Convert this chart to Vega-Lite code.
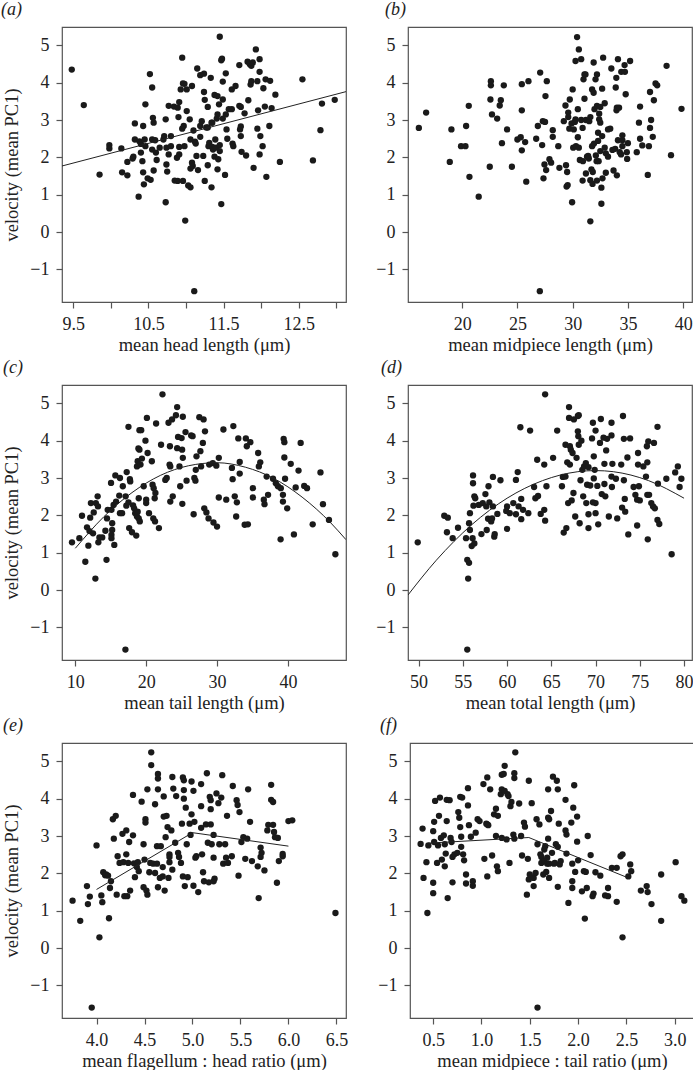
{
"$schema": "https://vega.github.io/schema/vega-lite/v6.json",
"background": "white",
"padding": {"left": 0, "top": 0, "right": 0, "bottom": 0},
"spacing": 3,
"config": {
 "font": "Liberation Serif",
 "view": {"stroke": "#555", "strokeWidth": 1.2},
 "axis": {"grid": false, "domain": false, "tickColor": "#555", "tickSize": 6, "tickWidth": 1.2, "labelFont": "Liberation Serif", "labelFontSize": 18, "labelColor": "#222", "titleFont": "Liberation Serif", "titleFontSize": 18.5, "titleFontWeight": "normal", "titleColor": "#222", "labelPadding": 7, "titlePadding": 2, "labelFlush": false, "labelOverlap": false},
 "axisY": {"labelAngle": 0, "titlePadding": 8},
 "title": {"font": "Liberation Serif", "fontSize": 18, "fontStyle": "italic", "fontWeight": "normal", "color": "#222", "anchor": "start", "frame": "group", "baseline": "alphabetic", "offset": 8}
},
"datasets": {
 "a": [{"x":9.48,"y":4.35},{"x":9.64,"y":3.40},{"x":9.85,"y":1.54},{"x":9.98,"y":2.33},{"x":9.98,"y":2.24},{"x":10.14,"y":2.24},{"x":10.15,"y":1.60},{"x":10.22,"y":1.52},{"x":10.22,"y":1.88},{"x":10.29,"y":1.97},{"x":10.30,"y":2.02},{"x":10.32,"y":2.91},{"x":10.32,"y":2.48},{"x":10.37,"y":0.95},{"x":10.38,"y":2.43},{"x":10.40,"y":2.36},{"x":10.40,"y":2.13},{"x":10.42,"y":1.90},{"x":10.43,"y":2.84},{"x":10.43,"y":1.60},{"x":10.44,"y":1.28},{"x":10.45,"y":2.48},{"x":10.46,"y":3.42},{"x":10.46,"y":2.30},{"x":10.49,"y":1.44},{"x":10.52,"y":4.23},{"x":10.53,"y":1.40},{"x":10.55,"y":3.87},{"x":10.56,"y":3.06},{"x":10.57,"y":2.93},{"x":10.55,"y":2.48},{"x":10.55,"y":2.21},{"x":10.57,"y":1.65},{"x":10.59,"y":2.46},{"x":10.60,"y":2.13},{"x":10.61,"y":1.93},{"x":10.65,"y":2.26},{"x":10.70,"y":2.48},{"x":10.71,"y":2.57},{"x":10.73,"y":3.02},{"x":10.73,"y":0.80},{"x":10.74,"y":1.81},{"x":10.75,"y":1.62},{"x":10.74,"y":2.26},{"x":10.77,"y":3.38},{"x":10.77,"y":2.08},{"x":10.80,"y":2.57},{"x":10.80,"y":2.30},{"x":10.84,"y":3.36},{"x":10.85,"y":1.38},{"x":10.88,"y":1.99},{"x":10.89,"y":3.33},{"x":10.89,"y":1.37},{"x":10.90,"y":3.08},{"x":10.91,"y":2.28},{"x":10.91,"y":2.08},{"x":10.91,"y":3.48},{"x":10.93,"y":3.82},{"x":10.95,"y":4.67},{"x":10.95,"y":2.77},{"x":10.96,"y":3.98},{"x":10.98,"y":3.97},{"x":10.96,"y":1.37},{"x":10.97,"y":2.84},{"x":10.98,"y":2.30},{"x":10.99,"y":0.31},{"x":11.01,"y":3.82},{"x":11.01,"y":3.24},{"x":11.03,"y":1.25},{"x":11.06,"y":1.20},{"x":11.05,"y":3.02},{"x":11.06,"y":1.70},{"x":11.06,"y":2.48},{"x":11.08,"y":3.91},{"x":11.08,"y":1.86},{"x":11.09,"y":1.77},{"x":11.10,"y":2.72},{"x":11.11,"y":-1.58},{"x":11.12,"y":2.42},{"x":11.13,"y":2.37},{"x":11.14,"y":2.04},{"x":11.15,"y":4.38},{"x":11.16,"y":1.66},{"x":11.19,"y":4.20},{"x":11.24,"y":4.24},{"x":11.19,"y":2.84},{"x":11.19,"y":2.55},{"x":11.21,"y":2.97},{"x":11.23,"y":2.04},{"x":11.24,"y":3.75},{"x":11.25,"y":3.54},{"x":11.25,"y":1.37},{"x":11.27,"y":2.80},{"x":11.29,"y":2.80},{"x":11.29,"y":1.79},{"x":11.29,"y":3.35},{"x":11.30,"y":2.30},{"x":11.31,"y":2.39},{"x":11.33,"y":4.13},{"x":11.34,"y":2.93},{"x":11.35,"y":2.93},{"x":11.34,"y":1.20},{"x":11.35,"y":2.28},{"x":11.36,"y":2.21},{"x":11.38,"y":2.02},{"x":11.38,"y":3.67},{"x":11.39,"y":2.48},{"x":11.40,"y":2.26},{"x":11.41,"y":3.04},{"x":11.42,"y":3.64},{"x":11.42,"y":1.68},{"x":11.42,"y":3.15},{"x":11.43,"y":1.95},{"x":11.44,"y":3.42},{"x":11.45,"y":5.23},{"x":11.45,"y":2.33},{"x":11.45,"y":2.17},{"x":11.47,"y":4.60},{"x":11.48,"y":4.64},{"x":11.47,"y":0.75},{"x":11.49,"y":4.03},{"x":11.49,"y":3.55},{"x":11.49,"y":3.04},{"x":11.52,"y":1.53},{"x":11.53,"y":4.25},{"x":11.53,"y":3.15},{"x":11.54,"y":2.75},{"x":11.55,"y":2.50},{"x":11.57,"y":3.29},{"x":11.61,"y":3.29},{"x":11.61,"y":3.82},{"x":11.62,"y":2.37},{"x":11.63,"y":2.30},{"x":11.66,"y":3.91},{"x":11.71,"y":4.47},{"x":11.71,"y":3.38},{"x":11.73,"y":3.35},{"x":11.72,"y":2.75},{"x":11.73,"y":2.83},{"x":11.73,"y":2.57},{"x":11.74,"y":2.15},{"x":11.78,"y":3.18},{"x":11.80,"y":2.05},{"x":11.82,"y":4.56},{"x":11.83,"y":3.53},{"x":11.85,"y":4.49},{"x":11.87,"y":4.45},{"x":11.86,"y":3.95},{"x":11.87,"y":4.04},{"x":11.89,"y":4.54},{"x":11.90,"y":1.72},{"x":11.93,"y":4.89},{"x":11.95,"y":4.04},{"x":11.95,"y":2.77},{"x":11.96,"y":3.26},{"x":11.98,"y":4.63},{"x":11.98,"y":4.29},{"x":11.98,"y":2.08},{"x":11.99,"y":2.57},{"x":12.02,"y":2.30},{"x":12.03,"y":3.85},{"x":12.05,"y":3.36},{"x":12.06,"y":4.09},{"x":12.07,"y":1.48},{"x":12.11,"y":2.84},{"x":12.12,"y":4.05},{"x":12.14,"y":3.32},{"x":12.19,"y":3.68},{"x":12.25,"y":1.88},{"x":12.55,"y":4.09},{"x":12.69,"y":1.92},{"x":12.79,"y":2.73},{"x":12.81,"y":3.44},{"x":12.98,"y":3.54}],
 "b": [{"x":16.08,"y":2.79},{"x":16.74,"y":3.20},{"x":18.88,"y":1.88},{"x":19.03,"y":2.75},{"x":19.9,"y":2.30},{"x":20.3,"y":2.30},{"x":20.36,"y":2.84},{"x":20.6,"y":3.38},{"x":20.66,"y":1.48},{"x":21.5,"y":0.95},{"x":22.5,"y":1.75},{"x":22.56,"y":3.55},{"x":22.6,"y":3.93},{"x":22.6,"y":4.04},{"x":22.7,"y":3.15},{"x":23.17,"y":3.04},{"x":23.4,"y":3.39},{"x":23.5,"y":3.53},{"x":23.6,"y":2.38},{"x":23.77,"y":3.93},{"x":24.07,"y":2.75},{"x":24.5,"y":1.75},{"x":25.0,"y":2.48},{"x":25.3,"y":2.54},{"x":25.4,"y":2.19},{"x":25.4,"y":3.96},{"x":25.4,"y":3.26},{"x":25.7,"y":2.41},{"x":25.8,"y":1.35},{"x":26.0,"y":4.04},{"x":26.7,"y":2.50},{"x":26.85,"y":2.84},{"x":27.06,"y":4.27},{"x":27.03,"y":-1.58},{"x":27.24,"y":2.33},{"x":27.3,"y":2.97},{"x":27.5,"y":2.95},{"x":27.36,"y":1.44},{"x":27.45,"y":1.81},{"x":27.54,"y":3.64},{"x":27.66,"y":4.04},{"x":27.6,"y":1.66},{"x":27.9,"y":1.95},{"x":28.05,"y":1.86},{"x":28.2,"y":2.73},{"x":28.2,"y":2.55},{"x":28.7,"y":2.30},{"x":28.8,"y":1.72},{"x":29.2,"y":2.97},{"x":29.35,"y":3.39},{"x":29.4,"y":1.79},{"x":29.45,"y":1.22},{"x":29.55,"y":1.26},{"x":29.5,"y":1.61},{"x":29.6,"y":3.20},{"x":29.6,"y":3.08},{"x":29.74,"y":3.55},{"x":29.7,"y":2.77},{"x":29.9,"y":2.91},{"x":29.95,"y":0.80},{"x":30.0,"y":3.82},{"x":30.05,"y":2.26},{"x":30.1,"y":2.75},{"x":30.2,"y":2.95},{"x":30.26,"y":3.02},{"x":30.26,"y":4.58},{"x":30.3,"y":2.30},{"x":30.4,"y":5.22},{"x":30.47,"y":2.54},{"x":30.47,"y":3.29},{"x":30.56,"y":4.89},{"x":30.56,"y":2.26},{"x":30.65,"y":1.93},{"x":30.77,"y":4.63},{"x":30.77,"y":3.00},{"x":30.9,"y":2.79},{"x":30.9,"y":1.38},{"x":30.93,"y":1.90},{"x":30.98,"y":4.09},{"x":31.07,"y":4.22},{"x":31.07,"y":3.57},{"x":31.16,"y":4.22},{"x":31.2,"y":3.00},{"x":31.2,"y":1.57},{"x":31.3,"y":2.02},{"x":31.4,"y":2.04},{"x":31.46,"y":1.97},{"x":31.5,"y":2.97},{"x":31.6,"y":3.08},{"x":31.6,"y":1.39},{"x":31.6,"y":0.29},{"x":31.7,"y":1.68},{"x":31.76,"y":3.82},{"x":31.76,"y":2.30},{"x":31.82,"y":1.61},{"x":31.8,"y":1.29},{"x":31.9,"y":4.54},{"x":31.9,"y":3.73},{"x":31.93,"y":2.37},{"x":31.98,"y":3.29},{"x":32.07,"y":4.09},{"x":32.1,"y":2.05},{"x":32.17,"y":1.90},{"x":32.2,"y":3.38},{"x":32.2,"y":4.22},{"x":32.2,"y":1.38},{"x":32.3,"y":2.66},{"x":32.3,"y":2.44},{"x":32.35,"y":1.90},{"x":32.4,"y":3.17},{"x":32.4,"y":3.02},{"x":32.5,"y":2.17},{"x":32.5,"y":3.35},{"x":32.5,"y":2.93},{"x":32.6,"y":0.76},{"x":32.6,"y":1.19},{"x":32.67,"y":3.84},{"x":32.67,"y":2.57},{"x":32.7,"y":1.44},{"x":32.76,"y":4.67},{"x":32.9,"y":3.45},{"x":32.9,"y":2.26},{"x":33.0,"y":1.59},{"x":33.0,"y":2.11},{"x":33.2,"y":2.02},{"x":33.2,"y":2.75},{"x":33.4,"y":2.77},{"x":33.5,"y":4.38},{"x":33.6,"y":2.20},{"x":33.7,"y":1.65},{"x":33.85,"y":2.23},{"x":33.9,"y":3.87},{"x":33.95,"y":4.13},{"x":33.97,"y":3.26},{"x":34.0,"y":1.52},{"x":34.0,"y":3.33},{"x":34.2,"y":3.33},{"x":34.1,"y":4.63},{"x":34.1,"y":2.46},{"x":34.26,"y":2.14},{"x":34.38,"y":2.08},{"x":34.4,"y":4.29},{"x":34.5,"y":2.46},{"x":34.5,"y":2.59},{"x":34.5,"y":2.30},{"x":34.7,"y":4.47},{"x":34.73,"y":4.29},{"x":34.8,"y":3.69},{"x":34.9,"y":2.14},{"x":34.93,"y":1.96},{"x":35.0,"y":2.38},{"x":35.2,"y":4.58},{"x":35.8,"y":2.14},{"x":36.0,"y":2.93},{"x":36.1,"y":3.36},{"x":36.1,"y":2.50},{"x":36.3,"y":2.32},{"x":36.8,"y":1.53},{"x":36.9,"y":2.30},{"x":37.0,"y":2.79},{"x":37.0,"y":3.75},{"x":37.1,"y":3.00},{"x":37.25,"y":2.55},{"x":37.35,"y":3.53},{"x":37.5,"y":3.98},{"x":37.65,"y":3.93},{"x":38.5,"y":4.45},{"x":38.9,"y":2.06},{"x":39.85,"y":3.30}],
 "c": [{"x":9.53,"y":1.28},{"x":10.57,"y":1.39},{"x":10.94,"y":1.99},{"x":11.41,"y":0.76},{"x":11.65,"y":1.68},{"x":11.84,"y":1.19},{"x":12.0,"y":1.58},{"x":12.1,"y":1.94},{"x":12.2,"y":2.33},{"x":12.5,"y":1.52},{"x":12.6,"y":2.08},{"x":12.83,"y":0.31},{"x":12.9,"y":2.33},{"x":13.15,"y":2.51},{"x":13.2,"y":2.24},{"x":13.25,"y":1.28},{"x":13.4,"y":1.41},{"x":13.8,"y":1.41},{"x":14.24,"y":1.59},{"x":14.4,"y":0.81},{"x":14.47,"y":1.92},{"x":14.57,"y":2.15},{"x":15.04,"y":2.87},{"x":15.1,"y":2.15},{"x":15.2,"y":1.79},{"x":15.2,"y":1.61},{"x":15.1,"y":1.48},{"x":15.1,"y":1.39},{"x":15.4,"y":2.28},{"x":15.5,"y":1.21},{"x":15.65,"y":3.07},{"x":15.75,"y":2.37},{"x":16.2,"y":2.53},{"x":16.3,"y":3.00},{"x":16.3,"y":2.06},{"x":16.6,"y":2.06},{"x":16.7,"y":2.78},{"x":17.1,"y":2.51},{"x":17.2,"y":2.26},{"x":17.07,"y":-1.59},{"x":17.25,"y":3.16},{"x":17.5,"y":4.37},{"x":17.5,"y":2.35},{"x":17.6,"y":1.66},{"x":17.7,"y":2.97},{"x":17.75,"y":2.91},{"x":18.0,"y":1.55},{"x":18.15,"y":2.27},{"x":18.3,"y":2.19},{"x":18.45,"y":2.06},{"x":18.6,"y":1.46},{"x":18.7,"y":1.97},{"x":18.8,"y":2.10},{"x":18.8,"y":3.45},{"x":18.7,"y":3.31},{"x":18.9,"y":3.79},{"x":18.95,"y":2.46},{"x":18.95,"y":1.92},{"x":19.05,"y":4.28},{"x":19.3,"y":4.28},{"x":19.05,"y":3.76},{"x":19.1,"y":1.84},{"x":19.2,"y":3.36},{"x":19.4,"y":3.52},{"x":19.65,"y":2.78},{"x":19.9,"y":4.00},{"x":20.0,"y":2.42},{"x":20.0,"y":2.33},{"x":20.1,"y":4.61},{"x":20.2,"y":3.67},{"x":20.4,"y":2.06},{"x":20.8,"y":3.45},{"x":20.9,"y":2.82},{"x":21.0,"y":1.92},{"x":21.06,"y":2.73},{"x":21.2,"y":2.46},{"x":21.25,"y":1.84},{"x":21.3,"y":2.60},{"x":21.4,"y":4.46},{"x":21.8,"y":1.66},{"x":22.1,"y":3.89},{"x":22.3,"y":5.24},{"x":22.7,"y":2.95},{"x":22.9,"y":3.00},{"x":23.15,"y":4.48},{"x":23.3,"y":3.36},{"x":23.4,"y":3.31},{"x":23.35,"y":3.85},{"x":23.4,"y":2.37},{"x":23.65,"y":4.57},{"x":23.75,"y":2.51},{"x":24.2,"y":4.68},{"x":24.37,"y":3.80},{"x":24.37,"y":4.90},{"x":24.5,"y":4.10},{"x":24.7,"y":3.31},{"x":24.8,"y":2.78},{"x":25.0,"y":4.07},{"x":25.07,"y":3.76},{"x":25.1,"y":2.31},{"x":25.17,"y":4.64},{"x":25.17,"y":3.54},{"x":25.55,"y":4.23},{"x":25.7,"y":2.93},{"x":26.35,"y":4.14},{"x":26.55,"y":4.12},{"x":26.7,"y":2.03},{"x":26.8,"y":3.00},{"x":26.95,"y":2.93},{"x":27.0,"y":3.22},{"x":27.1,"y":3.58},{"x":27.5,"y":4.63},{"x":27.65,"y":3.72},{"x":27.75,"y":3.31},{"x":28.0,"y":3.94},{"x":28.1,"y":4.57},{"x":28.2,"y":2.19},{"x":28.3,"y":4.25},{"x":28.5,"y":2.08},{"x":28.8,"y":1.92},{"x":28.9,"y":3.36},{"x":29.4,"y":3.40},{"x":29.5,"y":1.81},{"x":29.9,"y":3.33},{"x":30.0,"y":1.70},{"x":30.25,"y":3.54},{"x":30.25,"y":2.48},{"x":30.9,"y":4.30},{"x":31.3,"y":2.42},{"x":32.1,"y":3.27},{"x":32.3,"y":4.39},{"x":32.2,"y":2.97},{"x":32.5,"y":2.51},{"x":32.7,"y":1.97},{"x":32.8,"y":2.35},{"x":33.0,"y":4.06},{"x":33.2,"y":3.43},{"x":33.2,"y":3.12},{"x":33.9,"y":1.75},{"x":34.07,"y":4.06},{"x":34.2,"y":3.85},{"x":34.35,"y":1.76},{"x":34.7,"y":3.96},{"x":35.06,"y":2.73},{"x":35.06,"y":2.48},{"x":35.8,"y":3.67},{"x":35.9,"y":3.31},{"x":36.1,"y":3.42},{"x":36.6,"y":2.42},{"x":36.7,"y":2.30},{"x":37.0,"y":3.04},{"x":37.2,"y":2.55},{"x":37.9,"y":2.98},{"x":38.3,"y":2.86},{"x":38.6,"y":2.78},{"x":38.97,"y":1.36},{"x":39.0,"y":2.73},{"x":39.3,"y":2.55},{"x":39.3,"y":2.37},{"x":39.4,"y":4.05},{"x":39.5,"y":3.96},{"x":39.5,"y":3.55},{"x":39.6,"y":2.98},{"x":39.9,"y":2.19},{"x":40.4,"y":3.38},{"x":40.85,"y":1.49},{"x":41.1,"y":2.75},{"x":41.5,"y":3.20},{"x":41.8,"y":3.94},{"x":42.3,"y":2.79},{"x":42.7,"y":2.73},{"x":43.5,"y":1.76},{"x":44.6,"y":3.15},{"x":44.95,"y":2.30},{"x":45.8,"y":1.88},{"x":46.7,"y":0.96}],
 "d": [{"x":49.9,"y":1.28},{"x":52.9,"y":1.99},{"x":53.3,"y":1.94},{"x":53.2,"y":1.55},{"x":53.85,"y":1.39},{"x":54.45,"y":1.67},{"x":55.36,"y":1.39},{"x":55.5,"y":0.81},{"x":55.7,"y":1.79},{"x":55.7,"y":0.73},{"x":55.6,"y":0.31},{"x":55.5,"y":-1.59},{"x":55.8,"y":2.06},{"x":55.8,"y":1.61},{"x":56.0,"y":1.18},{"x":56.1,"y":1.39},{"x":56.15,"y":3.07},{"x":56.15,"y":2.86},{"x":56.2,"y":2.26},{"x":56.3,"y":2.51},{"x":56.3,"y":1.25},{"x":56.4,"y":2.46},{"x":56.8,"y":2.28},{"x":57.1,"y":1.50},{"x":57.25,"y":2.33},{"x":57.55,"y":2.57},{"x":57.65,"y":2.24},{"x":57.7,"y":1.61},{"x":57.85,"y":1.91},{"x":57.9,"y":2.78},{"x":58.0,"y":2.35},{"x":58.2,"y":1.84},{"x":58.3,"y":1.92},{"x":58.4,"y":3.03},{"x":58.4,"y":2.24},{"x":58.55,"y":1.43},{"x":58.6,"y":1.50},{"x":58.9,"y":2.04},{"x":59.25,"y":2.94},{"x":59.9,"y":2.12},{"x":60.0,"y":2.24},{"x":60.0,"y":1.64},{"x":60.3,"y":2.06},{"x":60.7,"y":2.33},{"x":61.0,"y":2.03},{"x":61.0,"y":2.95},{"x":61.2,"y":3.16},{"x":61.3,"y":2.24},{"x":61.5,"y":4.36},{"x":61.6,"y":1.90},{"x":61.6,"y":2.44},{"x":61.8,"y":2.15},{"x":62.4,"y":2.06},{"x":62.6,"y":4.27},{"x":63.05,"y":2.76},{"x":63.2,"y":2.46},{"x":63.4,"y":3.49},{"x":63.5,"y":2.52},{"x":63.8,"y":2.04},{"x":64.2,"y":3.36},{"x":64.2,"y":2.15},{"x":64.3,"y":1.86},{"x":64.3,"y":5.24},{"x":64.45,"y":2.78},{"x":65.2,"y":3.54},{"x":65.66,"y":4.27},{"x":66.2,"y":2.78},{"x":66.3,"y":3.03},{"x":66.4,"y":1.54},{"x":66.6,"y":3.04},{"x":66.6,"y":3.89},{"x":66.7,"y":1.66},{"x":66.8,"y":3.42},{"x":66.9,"y":2.33},{"x":67.0,"y":4.90},{"x":67.0,"y":4.61},{"x":67.1,"y":3.85},{"x":67.1,"y":3.36},{"x":67.2,"y":3.76},{"x":67.4,"y":3.67},{"x":67.3,"y":2.40},{"x":67.5,"y":2.60},{"x":67.55,"y":4.57},{"x":67.7,"y":1.97},{"x":67.85,"y":3.54},{"x":68.0,"y":4.25},{"x":68.05,"y":4.12},{"x":68.0,"y":4.66},{"x":68.1,"y":4.68},{"x":68.1,"y":3.89},{"x":68.2,"y":1.79},{"x":68.3,"y":2.94},{"x":68.4,"y":4.00},{"x":68.5,"y":3.22},{"x":68.6,"y":2.51},{"x":68.7,"y":3.31},{"x":68.9,"y":3.40},{"x":68.95,"y":2.33},{"x":69.05,"y":2.82},{"x":69.2,"y":2.03},{"x":69.2,"y":1.66},{"x":69.2,"y":3.29},{"x":69.4,"y":2.80},{"x":69.6,"y":4.06},{"x":69.7,"y":2.35},{"x":69.7,"y":4.48},{"x":69.8,"y":3.58},{"x":69.8,"y":2.99},{"x":69.9,"y":3.22},{"x":70.0,"y":4.27},{"x":70.0,"y":2.06},{"x":70.0,"y":2.33},{"x":70.2,"y":2.79},{"x":70.3,"y":1.76},{"x":70.5,"y":3.94},{"x":70.6,"y":4.58},{"x":70.7,"y":2.57},{"x":70.9,"y":4.08},{"x":71.0,"y":3.38},{"x":71.0,"y":2.84},{"x":71.1,"y":2.51},{"x":71.2,"y":3.74},{"x":71.3,"y":4.05},{"x":71.5,"y":1.97},{"x":71.8,"y":4.14},{"x":71.8,"y":4.48},{"x":71.8,"y":3.04},{"x":71.85,"y":2.76},{"x":71.9,"y":3.38},{"x":72.3,"y":2.98},{"x":72.45,"y":1.92},{"x":72.9,"y":3.36},{"x":73.0,"y":2.21},{"x":73.1,"y":4.66},{"x":73.2,"y":4.05},{"x":73.2,"y":2.94},{"x":73.3,"y":2.44},{"x":73.35,"y":2.10},{"x":73.6,"y":3.55},{"x":73.7,"y":1.49},{"x":73.9,"y":4.06},{"x":74.3,"y":2.76},{"x":74.5,"y":2.55},{"x":74.7,"y":2.42},{"x":74.7,"y":1.73},{"x":74.8,"y":3.67},{"x":74.8,"y":3.36},{"x":74.9,"y":2.78},{"x":75.0,"y":2.40},{"x":75.4,"y":3.31},{"x":75.7,"y":3.04},{"x":75.8,"y":3.85},{"x":75.85,"y":3.42},{"x":75.85,"y":2.55},{"x":75.9,"y":1.36},{"x":75.96,"y":3.98},{"x":76.05,"y":2.55},{"x":76.3,"y":2.33},{"x":76.5,"y":2.24},{"x":76.6,"y":3.94},{"x":76.7,"y":2.19},{"x":77.0,"y":1.88},{"x":77.0,"y":4.37},{"x":77.05,"y":2.85},{"x":77.2,"y":1.77},{"x":78.0,"y":2.98},{"x":78.6,"y":0.96},{"x":79.0,"y":3.15},{"x":79.3,"y":3.31},{"x":79.5,"y":2.76},{"x":79.7,"y":2.98}],
 "e": [{"x":3.75,"y":1.27},{"x":3.83,"y":0.73},{"x":3.90,"y":1.66},{"x":3.91,"y":1.18},{"x":3.93,"y":1.38},{"x":3.95,"y":-1.59},{"x":4.0,"y":2.75},{"x":4.03,"y":0.29},{"x":4.05,"y":1.41},{"x":4.06,"y":1.23},{"x":4.07,"y":2.03},{"x":4.09,"y":1.95},{"x":4.10,"y":1.97},{"x":4.12,"y":1.94},{"x":4.13,"y":0.80},{"x":4.14,"y":1.61},{"x":4.15,"y":1.79},{"x":4.17,"y":3.45},{"x":4.20,"y":3.54},{"x":4.18,"y":2.93},{"x":4.21,"y":1.43},{"x":4.22,"y":2.46},{"x":4.24,"y":2.28},{"x":4.27,"y":3.06},{"x":4.28,"y":2.30},{"x":4.29,"y":1.39},{"x":4.31,"y":3.15},{"x":4.31,"y":2.51},{"x":4.32,"y":1.39},{"x":4.33,"y":2.28},{"x":4.34,"y":2.84},{"x":4.35,"y":1.54},{"x":4.38,"y":4.10},{"x":4.38,"y":3.02},{"x":4.39,"y":2.27},{"x":4.40,"y":1.90},{"x":4.42,"y":2.17},{"x":4.43,"y":2.30},{"x":4.44,"y":2.06},{"x":4.47,"y":3.92},{"x":4.49,"y":2.78},{"x":4.49,"y":1.63},{"x":4.50,"y":2.37},{"x":4.51,"y":3.45},{"x":4.51,"y":3.36},{"x":4.52,"y":1.54},{"x":4.53,"y":1.43},{"x":4.53,"y":4.25},{"x":4.55,"y":2.03},{"x":4.56,"y":2.28},{"x":4.57,"y":5.24},{"x":4.57,"y":4.90},{"x":4.59,"y":2.26},{"x":4.61,"y":3.85},{"x":4.61,"y":2.01},{"x":4.63,"y":2.26},{"x":4.63,"y":2.73},{"x":4.64,"y":4.66},{"x":4.64,"y":4.54},{"x":4.64,"y":4.25},{"x":4.64,"y":1.63},{"x":4.66,"y":1.88},{"x":4.67,"y":2.73},{"x":4.69,"y":2.17},{"x":4.69,"y":1.92},{"x":4.70,"y":4.06},{"x":4.70,"y":3.52},{"x":4.71,"y":1.54},{"x":4.72,"y":2.97},{"x":4.73,"y":3.54},{"x":4.74,"y":3.24},{"x":4.75,"y":1.88},{"x":4.76,"y":2.51},{"x":4.76,"y":2.44},{"x":4.76,"y":2.30},{"x":4.78,"y":3.15},{"x":4.79,"y":2.10},{"x":4.79,"y":4.58},{"x":4.80,"y":4.27},{"x":4.82,"y":2.82},{"x":4.83,"y":4.07},{"x":4.85,"y":2.55},{"x":4.86,"y":2.44},{"x":4.88,"y":2.28},{"x":4.89,"y":3.33},{"x":4.90,"y":1.92},{"x":4.90,"y":4.57},{"x":4.91,"y":4.49},{"x":4.91,"y":4.23},{"x":4.91,"y":4.00},{"x":4.92,"y":1.66},{"x":4.93,"y":3.76},{"x":4.94,"y":2.78},{"x":4.95,"y":1.90},{"x":4.97,"y":3.33},{"x":4.98,"y":3.03},{"x":4.99,"y":4.46},{"x":4.99,"y":3.58},{"x":5.01,"y":1.67},{"x":5.01,"y":4.21},{"x":5.02,"y":3.38},{"x":5.03,"y":2.42},{"x":5.04,"y":2.46},{"x":5.06,"y":1.50},{"x":5.09,"y":4.39},{"x":5.09,"y":3.22},{"x":5.09,"y":3.80},{"x":5.10,"y":2.51},{"x":5.11,"y":2.03},{"x":5.12,"y":1.79},{"x":5.14,"y":3.31},{"x":5.15,"y":4.68},{"x":5.16,"y":2.82},{"x":5.17,"y":1.76},{"x":5.18,"y":4.05},{"x":5.19,"y":3.96},{"x":5.19,"y":3.72},{"x":5.19,"y":3.31},{"x":5.20,"y":2.78},{"x":5.22,"y":1.79},{"x":5.22,"y":2.42},{"x":5.22,"y":3.03},{"x":5.23,"y":1.86},{"x":5.25,"y":4.14},{"x":5.27,"y":3.88},{"x":5.28,"y":2.78},{"x":5.30,"y":4.03},{"x":5.31,"y":4.63},{"x":5.32,"y":2.26},{"x":5.34,"y":2.78},{"x":5.35,"y":2.42},{"x":5.36,"y":3.54},{"x":5.37,"y":2.28},{"x":5.41,"y":2.46},{"x":5.42,"y":4.34},{"x":5.46,"y":3.96},{"x":5.47,"y":3.83},{"x":5.48,"y":1.94},{"x":5.49,"y":3.64},{"x":5.51,"y":2.84},{"x":5.53,"y":2.97},{"x":5.55,"y":2.39},{"x":5.57,"y":2.93},{"x":5.58,"y":4.25},{"x":5.60,"y":3.38},{"x":5.62,"y":2.33},{"x":5.68,"y":2.19},{"x":5.69,"y":1.34},{"x":5.71,"y":2.44},{"x":5.71,"y":2.69},{"x":5.72,"y":2.55},{"x":5.75,"y":2.08},{"x":5.78,"y":3.15},{"x":5.79,"y":3.30},{"x":5.82,"y":4.37},{"x":5.82,"y":3.97},{"x":5.84,"y":3.91},{"x":5.84,"y":3.30},{"x":5.85,"y":3.11},{"x":5.86,"y":2.97},{"x":5.88,"y":1.75},{"x":5.89,"y":2.95},{"x":5.90,"y":2.33},{"x":5.94,"y":2.52},{"x":5.94,"y":2.46},{"x":6.00,"y":3.40},{"x":6.04,"y":3.42},{"x":6.49,"y":0.94}],
 "f": [{"x":0.37,"y":2.79},{"x":0.39,"y":3.20},{"x":0.40,"y":1.88},{"x":0.43,"y":2.30},{"x":0.44,"y":0.94},{"x":0.45,"y":2.75},{"x":0.50,"y":1.47},{"x":0.50,"y":1.75},{"x":0.50,"y":3.13},{"x":0.51,"y":3.38},{"x":0.51,"y":2.84},{"x":0.52,"y":3.94},{"x":0.54,"y":2.28},{"x":0.55,"y":2.75},{"x":0.56,"y":3.54},{"x":0.57,"y":4.03},{"x":0.58,"y":2.95},{"x":0.59,"y":2.37},{"x":0.61,"y":3.02},{"x":0.62,"y":2.19},{"x":0.62,"y":2.78},{"x":0.63,"y":2.53},{"x":0.64,"y":3.40},{"x":0.64,"y":3.97},{"x":0.65,"y":1.34},{"x":0.67,"y":3.96},{"x":0.68,"y":2.95},{"x":0.69,"y":2.84},{"x":0.70,"y":2.44},{"x":0.70,"y":1.76},{"x":0.72,"y":2.51},{"x":0.75,"y":2.55},{"x":0.76,"y":3.64},{"x":0.77,"y":3.49},{"x":0.78,"y":3.24},{"x":0.78,"y":4.05},{"x":0.80,"y":4.03},{"x":0.79,"y":2.98},{"x":0.79,"y":2.71},{"x":0.81,"y":2.51},{"x":0.82,"y":2.35},{"x":0.84,"y":1.97},{"x":0.84,"y":1.73},{"x":0.86,"y":4.28},{"x":0.86,"y":3.82},{"x":0.87,"y":3.29},{"x":0.89,"y":2.98},{"x":0.91,"y":1.79},{"x":0.91,"y":1.67},{"x":0.94,"y":3.09},{"x":0.96,"y":3.45},{"x":0.98,"y":3.40},{"x":1.02,"y":4.39},{"x":1.03,"y":2.39},{"x":1.05,"y":3.33},{"x":1.06,"y":3.31},{"x":1.07,"y":3.29},{"x":1.06,"y":4.57},{"x":1.06,"y":1.92},{"x":1.09,"y":4.25},{"x":1.11,"y":2.48},{"x":1.13,"y":3.58},{"x":1.15,"y":3.73},{"x":1.15,"y":3.00},{"x":1.16,"y":2.19},{"x":1.17,"y":2.06},{"x":1.17,"y":3.54},{"x":1.20,"y":4.12},{"x":1.21,"y":4.64},{"x":1.21,"y":4.25},{"x":1.21,"y":2.95},{"x":1.23,"y":4.66},{"x":1.24,"y":4.88},{"x":1.24,"y":4.21},{"x":1.26,"y":2.91},{"x":1.27,"y":4.12},{"x":1.28,"y":4.07},{"x":1.29,"y":2.28},{"x":1.30,"y":3.80},{"x":1.31,"y":3.91},{"x":1.33,"y":3.04},{"x":1.34,"y":2.93},{"x":1.34,"y":4.68},{"x":1.34,"y":4.55},{"x":1.35,"y":5.24},{"x":1.39,"y":3.87},{"x":1.41,"y":3.00},{"x":1.42,"y":2.48},{"x":1.44,"y":3.36},{"x":1.45,"y":3.25},{"x":1.47,"y":1.43},{"x":1.48,"y":2.39},{"x":1.49,"y":4.48},{"x":1.49,"y":1.84},{"x":1.50,"y":1.97},{"x":1.52,"y":3.88},{"x":1.54,"y":1.88},{"x":1.54,"y":1.66},{"x":1.56,"y":2.01},{"x":1.57,"y":3.45},{"x":1.58,"y":-1.59},{"x":1.58,"y":2.78},{"x":1.60,"y":3.31},{"x":1.61,"y":2.51},{"x":1.62,"y":2.44},{"x":1.62,"y":2.28},{"x":1.64,"y":1.97},{"x":1.65,"y":2.64},{"x":1.65,"y":2.33},{"x":1.66,"y":2.73},{"x":1.67,"y":2.04},{"x":1.68,"y":2.26},{"x":1.68,"y":2.42},{"x":1.69,"y":3.49},{"x":1.69,"y":2.93},{"x":1.69,"y":4.25},{"x":1.70,"y":1.88},{"x":1.70,"y":2.26},{"x":1.70,"y":3.45},{"x":1.72,"y":3.67},{"x":1.73,"y":2.55},{"x":1.74,"y":4.59},{"x":1.75,"y":2.26},{"x":1.76,"y":2.28},{"x":1.77,"y":2.78},{"x":1.78,"y":4.48},{"x":1.79,"y":4.25},{"x":1.79,"y":2.71},{"x":1.79,"y":1.64},{"x":1.80,"y":3.33},{"x":1.81,"y":2.24},{"x":1.82,"y":2.33},{"x":1.87,"y":3.97},{"x":1.87,"y":3.15},{"x":1.88,"y":3.04},{"x":1.88,"y":2.53},{"x":1.90,"y":1.21},{"x":1.93,"y":3.36},{"x":1.94,"y":2.26},{"x":1.94,"y":1.79},{"x":1.94,"y":1.61},{"x":1.95,"y":3.76},{"x":1.96,"y":4.36},{"x":1.97,"y":2.04},{"x":1.99,"y":2.85},{"x":1.99,"y":3.52},{"x":2.00,"y":2.35},{"x":2.04,"y":1.52},{"x":2.06,"y":2.06},{"x":2.07,"y":0.79},{"x":2.08,"y":2.04},{"x":2.09,"y":1.61},{"x":2.10,"y":3.00},{"x":2.13,"y":2.49},{"x":2.15,"y":1.39},{"x":2.16,"y":1.46},{"x":2.18,"y":2.03},{"x":2.23,"y":1.94},{"x":2.28,"y":1.41},{"x":2.31,"y":1.61},{"x":2.31,"y":1.39},{"x":2.35,"y":2.15},{"x":2.40,"y":2.15},{"x":2.40,"y":1.24},{"x":2.44,"y":2.46},{"x":2.46,"y":2.51},{"x":2.46,"y":0.29},{"x":2.52,"y":1.92},{"x":2.54,"y":2.24},{"x":2.55,"y":2.06},{"x":2.65,"y":1.54},{"x":2.71,"y":1.66},{"x":2.72,"y":1.50},{"x":2.76,"y":1.18},{"x":2.86,"y":1.97},{"x":2.86,"y":0.73},{"x":3.01,"y":2.30},{"x":3.07,"y":1.39},{"x":3.10,"y":1.27}],
 "la": [{"x":9.35,"y":1.77},{"x":13.13,"y":3.76}],
 "lc": [{"x":10,"y":1.12},{"x":14,"y":1.96},{"x":18,"y":2.61},{"x":22,"y":3.07},{"x":26,"y":3.33},{"x":30,"y":3.41},{"x":34,"y":3.29},{"x":38,"y":2.99},{"x":42,"y":2.49},{"x":46,"y":1.81},{"x":48.2,"y":1.35}],
 "ld": [{"x":48.8,"y":-0.13},{"x":52,"y":0.80},{"x":56,"y":1.75},{"x":60,"y":2.46},{"x":64,"y":2.93},{"x":68,"y":3.17},{"x":70,"y":3.2},{"x":72,"y":3.17},{"x":76,"y":2.93},{"x":80,"y":2.46}],
 "le": [{"x":4.0,"y":1.57},{"x":5.0,"y":3.09},{"x":6.0,"y":2.73}],
 "lf": [{"x":0.45,"y":2.81},{"x":1.49,"y":2.96},{"x":2.5,"y":1.90}]
},
"vconcat": [
 {"spacing": 28, "hconcat": [
  {"width": 284, "height": 275,
   "title": {"text": "(a)", "dx": -61},
   "encoding": {
    "x": {"field": "x", "type": "quantitative", "scale": {"domain": [9.35, 13.13], "nice": false, "zero": false}, "axis": {"values": [9.5,10,10.5,11,11.5,12,12.5,13], "format": ".1f", "labelExpr": "datum.value == 9.5 || datum.value == 10.5 || datum.value == 11.5 || datum.value == 12.5 ? datum.label : ''", "title": "mean head length (μm)"}},
    "y": {"field": "y", "type": "quantitative", "scale": {"domain": [-1.87, 5.49], "nice": false, "zero": false}, "axis": {"values": [-1,0,1,2,3,4,5], "title": "velocity (mean PC1)"}}
   },
   "layer": [
    {"data": {"name": "a"}, "mark": {"type": "circle", "size": 40, "opacity": 1, "color": "#1a1a1a"}},
    {"data": {"name": "la"}, "mark": {"type": "line", "color": "#222", "strokeWidth": 1, "clip": true}}
   ]},
  {"width": 284, "height": 275,
   "title": {"text": "(b)", "dx": -23},
   "encoding": {
    "x": {"field": "x", "type": "quantitative", "scale": {"domain": [15.1, 40.8], "nice": false, "zero": false}, "axis": {"values": [20,25,30,35,40], "title": "mean midpiece length (μm)"}},
    "y": {"field": "y", "type": "quantitative", "scale": {"domain": [-1.87, 5.49], "nice": false, "zero": false}, "axis": {"values": [-1,0,1,2,3,4,5], "title": null}}
   },
   "layer": [
    {"data": {"name": "b"}, "mark": {"type": "circle", "size": 40, "opacity": 1, "color": "#1a1a1a"}}
   ]}
 ]},
 {"spacing": 28, "hconcat": [
  {"width": 284, "height": 275,
   "title": {"text": "(c)", "dx": -59},
   "encoding": {
    "x": {"field": "x", "type": "quantitative", "scale": {"domain": [8.12, 48.2], "nice": false, "zero": false}, "axis": {"values": [10,20,30,40], "title": "mean tail length (μm)"}},
    "y": {"field": "y", "type": "quantitative", "scale": {"domain": [-1.87, 5.49], "nice": false, "zero": false}, "axis": {"values": [-1,0,1,2,3,4,5], "title": "velocity (mean PC1)"}}
   },
   "layer": [
    {"data": {"name": "c"}, "mark": {"type": "circle", "size": 40, "opacity": 1, "color": "#1a1a1a"}},
    {"data": {"name": "lc"}, "mark": {"type": "line", "color": "#222", "strokeWidth": 1, "clip": true, "interpolate": "monotone"}}
   ]},
  {"width": 284, "height": 275,
   "title": {"text": "(d)", "dx": -27},
   "encoding": {
    "x": {"field": "x", "type": "quantitative", "scale": {"domain": [48.8, 80.9], "nice": false, "zero": false}, "axis": {"values": [50,55,60,65,70,75,80], "title": "mean total length (μm)"}},
    "y": {"field": "y", "type": "quantitative", "scale": {"domain": [-1.87, 5.49], "nice": false, "zero": false}, "axis": {"values": [-1,0,1,2,3,4,5], "title": null}}
   },
   "layer": [
    {"data": {"name": "d"}, "mark": {"type": "circle", "size": 40, "opacity": 1, "color": "#1a1a1a"}},
    {"data": {"name": "ld"}, "mark": {"type": "line", "color": "#222", "strokeWidth": 1, "clip": true, "interpolate": "monotone"}}
   ]}
 ]},
 {"spacing": 28, "hconcat": [
  {"width": 284, "height": 275,
   "title": {"text": "(e)", "dx": -59},
   "encoding": {
    "x": {"field": "x", "type": "quantitative", "scale": {"domain": [3.64, 6.6], "nice": false, "zero": false}, "axis": {"values": [4,4.5,5,5.5,6,6.5], "format": ".1f", "title": "mean flagellum : head ratio (μm)"}},
    "y": {"field": "y", "type": "quantitative", "scale": {"domain": [-1.87, 5.49], "nice": false, "zero": false}, "axis": {"values": [-1,0,1,2,3,4,5], "title": "velocity (mean PC1)"}}
   },
   "layer": [
    {"data": {"name": "e"}, "mark": {"type": "circle", "size": 40, "opacity": 1, "color": "#1a1a1a"}},
    {"data": {"name": "le"}, "mark": {"type": "line", "color": "#222", "strokeWidth": 1, "clip": true}}
   ]},
  {"width": 284, "height": 275,
   "title": {"text": "(f)", "dx": -30},
   "encoding": {
    "x": {"field": "x", "type": "quantitative", "scale": {"domain": [0.26, 3.2], "nice": false, "zero": false}, "axis": {"values": [0.5,1,1.5,2,2.5,3], "format": ".1f", "title": "mean midpiece : tail ratio (μm)"}},
    "y": {"field": "y", "type": "quantitative", "scale": {"domain": [-1.87, 5.49], "nice": false, "zero": false}, "axis": {"values": [-1,0,1,2,3,4,5], "title": null}}
   },
   "layer": [
    {"data": {"name": "f"}, "mark": {"type": "circle", "size": 40, "opacity": 1, "color": "#1a1a1a"}},
    {"data": {"name": "lf"}, "mark": {"type": "line", "color": "#222", "strokeWidth": 1, "clip": true}}
   ]}
 ]}
]
}
